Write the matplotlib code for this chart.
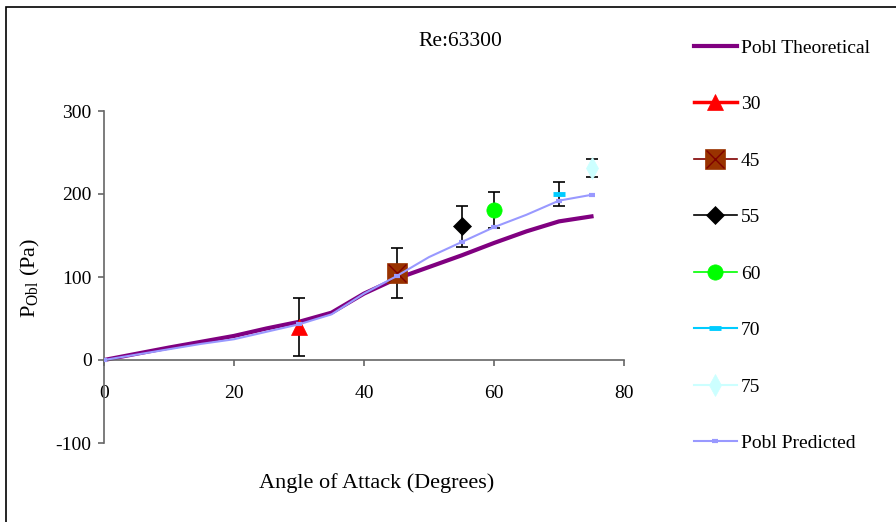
"""
Oblique pressure vs angle of attack at Re 63300: theory, prediction and measurements.
"""

import matplotlib

matplotlib.use("Agg")
import matplotlib.pyplot as plt
from matplotlib.legend_handler import HandlerTuple
from matplotlib.lines import Line2D
from matplotlib.patches import Rectangle

plt.rcParams["font.family"] = ["Liberation Serif", "DejaVu Serif"]
plt.rcParams["mathtext.fontset"] = "custom"
plt.rcParams["mathtext.rm"] = "Liberation Serif"
plt.rcParams["axes.unicode_minus"] = False

# curves
angles = [0, 5, 10, 15, 20, 25, 30, 35, 40, 45, 50, 55, 60, 65, 70, 75]
p_theoretical = [0, 7.5, 15, 22, 29, 38, 46, 57, 80, 98, 112, 126, 141, 155, 167, 173]
p_predicted = [0, 6.5, 13, 19.5, 25, 34, 43, 55, 80, 101, 124, 142, 160, 175, 192, 199]
predicted_marker_angles = [0, 30, 45, 55, 60, 70, 75]

# measurements with error bars
exp_angles = [30, 45, 55, 60, 70, 75]
exp_values = [40, 105, 161, 181, 200, 231]
exp_errors = [35, 30, 25, 22, 15, 11]
exp_labels = ["30", "45", "55", "60", "70", "75"]

x_ticks = [0, 20, 40, 60, 80]
y_ticks = [-100, 0, 100, 200, 300]

# marker styles for each measurement: (marker, face, edge, size, line colour, line width)
EXP_STYLES = [
    ("^", "#FF0000", "#FF0000", 12, "#FF0000", 2.5),
    ("s", "#993300", "#993300", 15, "#800000", 1.2),
    ("D", "#000000", "#000000", 9, "#000000", 1.2),
    ("o", "#00FF00", "#00FF00", 11, "#00FF00", 1.2),
    ("_", "#00CCFF", "#00CCFF", 8, "#00CCFF", 1.5),
    ("d", "#CCFFFF", "#CCFFFF", 11, "#CCFFFF", 1.5),
]

fig = plt.figure(figsize=(8.96, 5.22), dpi=100)
ax = fig.add_axes([104 / 896, 1 - 443 / 522, 520 / 896, 332 / 522])

ax.plot(angles, p_theoretical, color="#800080", lw=3, zorder=2)

legend_handles = [Line2D([], [], color="#800080", lw=3)]
for i, (x, y, err) in enumerate(zip(exp_angles, exp_values, exp_errors)):
    marker, face, edge, size, line_color, line_width = EXP_STYLES[i]
    ax.errorbar(x, y, yerr=err, fmt="none", ecolor="black", elinewidth=1.2, capsize=4.5, capthick=1.2, zorder=3)
    mew = 3.5 if marker == "_" else 0.5
    ax.plot(x, y, marker=marker, ms=size, mfc=face, mec=edge, mew=mew, ls="none", zorder=4)
    handle = Line2D([], [], color=line_color, lw=line_width, marker=marker, ms=size, mfc=face, mec=edge, mew=mew)
    if marker == "s":
        ax.plot(x, y, marker="x", ms=size - 2, mec="#800000", mew=1.0, ls="none", zorder=5)
        cross = Line2D([], [], ls="none", marker="x", ms=size - 2, mec="#800000", mew=1.0)
        handle = (handle, cross)
    legend_handles.append(handle)

marker_idx = [angles.index(a) for a in predicted_marker_angles]
ax.plot(
    angles, p_predicted, color="#9999FF", lw=1.5, marker="_", ms=5, mew=3,
    markevery=marker_idx, zorder=6,
)
legend_handles.append(Line2D([], [], color="#9999FF", lw=1.5, marker="_", ms=5, mew=3))

ax.set_xlim(0, 80)
ax.set_ylim(-100, 300)
ax.set_xticks(x_ticks)
ax.set_yticks(y_ticks)
ax.spines["top"].set_visible(False)
ax.spines["right"].set_visible(False)
ax.spines["bottom"].set_position(("data", 0))
for side in ("left", "bottom"):
    ax.spines[side].set_color("#666666")
    ax.spines[side].set_linewidth(1.2)
ax.tick_params(axis="both", direction="out", length=4, width=1.2, color="#666666", labelsize=14)
ax.tick_params(axis="x", pad=14)
ax.tick_params(axis="y", pad=5)
ax.set_facecolor("none")

fig.text(460 / 896, 1 - 42 / 522, "Re:63300", ha="center", va="center", fontsize=15.5)
fig.text(377 / 896, 1 - 483 / 522, "Angle of Attack (Degrees)", ha="center", va="center", fontsize=16)
fig.text(30 / 896, 1 - 278 / 522, r"P$_{\mathrm{Obl}}$ (Pa)", ha="center", va="center", rotation=90, fontsize=16)

ax.legend(
    legend_handles,
    ["Pobl Theoretical"] + exp_labels + ["Pobl Predicted"],
    handler_map={tuple: HandlerTuple(ndivide=1)},
    loc="upper left",
    bbox_to_anchor=(694 / 896, 1 - 39 / 522),
    bbox_transform=fig.transFigure,
    frameon=False,
    fontsize=14,
    handlelength=2.2,
    handletextpad=0.2,
    labelspacing=2.0,
    borderpad=0,
    borderaxespad=0,
)

# outer chart frame (only left and top edges fall inside the image)
fig.patches.append(
    Rectangle((6 / 896, -0.1), 1.2, 1.1 - 7 / 522, transform=fig.transFigure,
              fill=False, edgecolor="black", lw=1.2)
)

fig.savefig("out.png", dpi=100)
